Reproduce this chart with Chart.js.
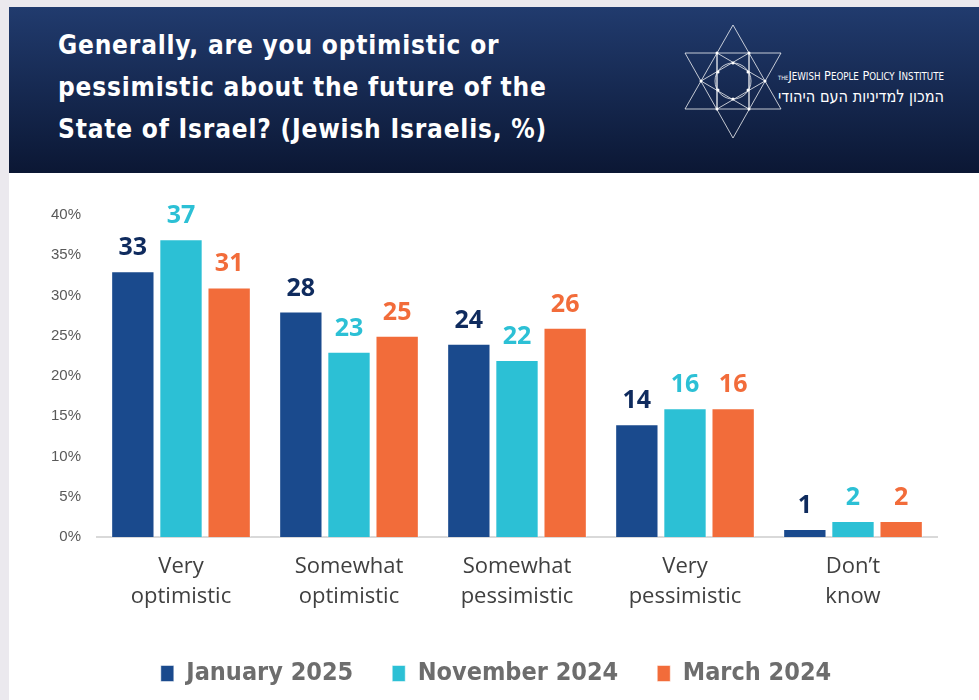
<!DOCTYPE html>
<html>
<head>
<meta charset="utf-8">
<script src="https://cdn.jsdelivr.net/npm/chart.js@4.4.1/dist/chart.umd.min.js"></script>
<style>
  html, body { margin: 0; padding: 0; background: #ebe9ee; width: 979px; height: 700px; overflow: hidden; }
  .card { position: absolute; left: 9px; top: 7px; width: 970px; height: 720px; background: #fff; }
  .header { position: absolute; left: 0; top: 0; width: 970px; height: 166px; background: linear-gradient(#213b6e, #0b1734); }
  .title { position: absolute; left: 49px; top: 17px; color: #fff; letter-spacing: 0.8px; font: bold 26px/42px "DejaVu Sans Condensed", "DejaVu Sans", sans-serif; }
  .logo { position: absolute; left: 671px; top: 13px; }
  .chart-wrap { position: absolute; left: 0; top: 166px; width: 970px; height: 527px; }
</style>
</head>
<body>
<div class="card">
  <div class="header">
    <div class="title">Generally, are you optimistic or<br>pessimistic about the future of the<br>State of Israel? (Jewish Israelis, %)</div>
    <svg class="logo" width="280" height="130" viewBox="0 0 280 130">
      <g stroke="rgba(255,255,255,0.75)" stroke-width="1" fill="none">
        <!-- two big triangles -->
        <polygon points="53,5 5,89 101,89"/>
        <polygon points="5,33 101,33 53,118"/>
        <!-- inner verticals -->
        <line x1="37" y1="33" x2="37" y2="89"/>
        <line x1="69" y1="33" x2="69" y2="89"/>
        <!-- inner star -->
        <polygon points="37,33 85,61 37,89"/>
        <polygon points="69,33 21,61 69,89"/>
        <circle cx="53" cy="61" r="18"/>
      </g>
      <g fill="#fff">
        <circle cx="37" cy="33" r="1.5"/><circle cx="69" cy="33" r="1.5"/>
        <circle cx="21" cy="61" r="1.5"/><circle cx="85" cy="61" r="1.5"/>
        <circle cx="37" cy="89" r="1.5"/><circle cx="69" cy="89" r="1.5"/>
        <circle cx="53" cy="43" r="1.5"/><circle cx="53" cy="79" r="1.5"/>
        <circle cx="38" cy="52" r="1.5"/><circle cx="68" cy="52" r="1.5"/>
        <circle cx="38" cy="70" r="1.5"/><circle cx="68" cy="70" r="1.5"/>
      </g>
      <text x="98" y="60" fill="#fff" font-family="DejaVu Sans Condensed, DejaVu Sans" font-size="13" textLength="166" lengthAdjust="spacingAndGlyphs"><tspan font-size="6">THE</tspan>J<tspan font-size="10">EWISH</tspan> P<tspan font-size="10">EOPLE</tspan> P<tspan font-size="10">OLICY</tspan> I<tspan font-size="10">NSTITUTE</tspan></text>
      <text x="264" y="82" fill="#fff" font-family="DejaVu Sans Condensed, DejaVu Sans" font-size="17" direction="rtl" text-anchor="start" textLength="166" lengthAdjust="spacingAndGlyphs">המכון למדיניות העם היהודי</text>
    </svg>
  </div>
  <div class="chart-wrap"><canvas id="chartOptimism"></canvas></div>
</div>
<script>
const categories = [
  ['Very', 'optimistic'],
  ['Somewhat', 'optimistic'],
  ['Somewhat', 'pessimistic'],
  ['Very', 'pessimistic'],
  ['Don’t', 'know']
];
const seriesNames = ['January 2025', 'November 2024', 'March 2024'];
const jan2025 = [33, 28, 24, 14, 1];
const nov2024 = [37, 23, 22, 16, 2];
const mar2024 = [31, 25, 26, 16, 2];

const barColors = ['#1a4a8d', '#2cc0d5', '#f26c3a'];
const labelColors = ['#0f2b5e', '#2cc0d5', '#f26c3a'];

// value labels above each bar
const barValues = {
  id: 'barValues',
  afterDatasetsDraw(chart) {
    const ctx = chart.ctx;
    ctx.save();
    ctx.font = 'bold 25px "Open Sans", sans-serif';
    ctx.textAlign = 'center';
    ctx.textBaseline = 'alphabetic';
    chart.data.datasets.forEach((ds, i) => {
      chart.getDatasetMeta(i).data.forEach((bar, j) => {
        ctx.fillStyle = labelColors[i];
        ctx.fillText(ds.data[j], bar.x, bar.y - 16);
      });
    });
    ctx.restore();
  }
};

// nudge the legend a bit to the right of centre
const legendShift = {
  id: 'legendShift',
  afterLayout(chart) {
    chart.legend.left += 23;
    chart.legend.right += 23;
  }
};

const ctx = document.getElementById('chartOptimism');
new Chart(ctx.getContext('2d'), {
  type: 'bar',
  data: {
    labels: categories,
    datasets: [jan2025, nov2024, mar2024].map((d, i) => ({
      label: seriesNames[i],
      data: d,
      backgroundColor: barColors[i],
      borderColor: 'rgba(255,255,255,0.5)',
      borderWidth: 1,
      categoryPercentage: 0.86,
      barPercentage: 0.9
    }))
  },
  options: {
    responsive: true,
    maintainAspectRatio: false,
    animation: false,
    layout: { padding: { top: 42, right: 42, left: 0, bottom: 4 } },
    plugins: {
      tooltip: { enabled: false },
      legend: {
        position: 'bottom',
        labels: {
          boxWidth: 13,
          boxHeight: 16,
          padding: 39,
          color: '#6d6d6d',
          font: { family: '"DejaVu Sans Condensed", "DejaVu Sans"', size: 25, weight: 'bold' }
        }
      }
    },
    scales: {
      x: {
        grid: { display: false, drawTicks: false },
        border: { color: '#d9d9d9', width: 2 },
        ticks: {
          color: '#404040',
          padding: 15,
          maxRotation: 0,
          font: { family: '"Open Sans"', size: 22, lineHeight: 1.36 }
        },
        afterFit(scale) { scale.height = 85; }
      },
      y: {
        min: 0,
        max: 40,
        grid: { display: false, drawTicks: false },
        border: { display: false },
        ticks: {
          stepSize: 5,
          padding: 16,
          color: '#595959',
          font: { family: '"Liberation Sans", Arial', size: 15 },
          callback: v => v + '%'
        },
        afterFit(scale) { scale.width = 88; }
      }
    }
  },
  plugins: [barValues, legendShift]
});
</script>
</body>
</html>
